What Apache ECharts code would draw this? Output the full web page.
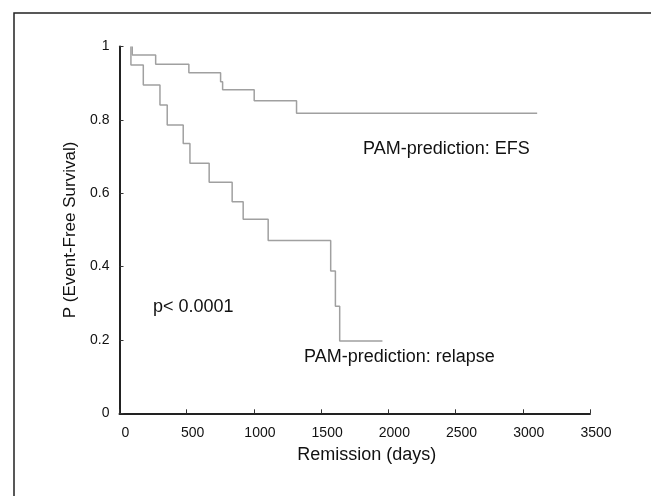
<!DOCTYPE html>
<html>
<head>
<meta charset="utf-8">
<script src="https://cdn.jsdelivr.net/npm/echarts@6/dist/echarts.min.js"></script>
<style>
  html, body { margin: 0; padding: 0; background: #fff; }
  #main { width: 651px; height: 496px; }
</style>
</head>
<body>
<div id="main"></div>
<script>
// Kaplan-Meier curves (days, survival probability)
var efsDays = [95, 95, 269, 516, 752, 767, 1002, 1317, 3107];
var efsProb = [1, 0.977, 0.952, 0.929, 0.904, 0.882, 0.852, 0.818, 0.818];
var relapseDays = [85, 85, 177, 301, 355, 474, 524, 667, 838, 920, 1106, 1571, 1606, 1638, 1956];
var relapseProb = [1, 0.950, 0.895, 0.841, 0.786, 0.736, 0.682, 0.630, 0.577, 0.529, 0.471, 0.388, 0.292, 0.197, 0.197];
var xTicks = [0, 3500, 500];   // min, max, interval
var yTicks = [0, 1, 0.2];

var font = 'Liberation Sans, Arial, Helvetica, sans-serif';

function pairs(xs, ys) {
    var out = [];
    for (var i = 0; i < xs.length; i++) {
        out.push([xs[i], ys[i]]);
    }
    return out;
}

var myChart = echarts.init(document.getElementById('main'));
var option = {
    backgroundColor: '#fff',
    animation: false,
    grid: {
        left: 119.5,
        right: 61,
        top: 46.6,
        bottom: 82.7
    },
    xAxis: {
        type: 'value',
        min: xTicks[0],
        max: xTicks[1],
        interval: xTicks[2],
        name: 'Remission (days)',
        nameLocation: 'middle',
        nameGap: 33,
        nameTextStyle: { fontFamily: font, fontSize: 18, color: '#111', padding: [0, 0, 0, 24] },
        axisLine: { lineStyle: { color: '#222', width: 2 } },
        axisTick: { inside: true, length: 4, lineStyle: { color: '#333' } },
        axisLabel: {
            fontFamily: font, fontSize: 14, color: '#111', margin: 13,
            padding: [0, 0, 0, 12],
            formatter: function (v) { return String(v); }
        },
        splitLine: { show: false }
    },
    yAxis: {
        type: 'value',
        min: yTicks[0],
        max: yTicks[1],
        interval: yTicks[2],
        name: 'P (Event-Free Survival)',
        nameLocation: 'middle',
        nameGap: 38,
        nameTextStyle: { fontFamily: font, fontSize: 17, color: '#111' },
        axisLine: { show: true, lineStyle: { color: '#222', width: 2 } },
        axisTick: { show: true, inside: true, length: 4, lineStyle: { color: '#333' } },
        axisLabel: { fontFamily: font, fontSize: 14, color: '#111', margin: 10 },
        splitLine: { show: false }
    },
    series: [
        {
            name: 'PAM-prediction: EFS',
            type: 'line',
            step: 'end',
            symbol: 'none',
            lineStyle: { color: '#a0a0a0', width: 1.5 },
            data: pairs(efsDays, efsProb)
        },
        {
            name: 'PAM-prediction: relapse',
            type: 'line',
            step: 'end',
            symbol: 'none',
            lineStyle: { color: '#a0a0a0', width: 1.5 },
            data: pairs(relapseDays, relapseProb)
        }
    ],
    graphic: [
        {
            type: 'rect',
            shape: { x: 14, y: 13, width: 660, height: 510 },
            style: { fill: 'none', stroke: '#222', lineWidth: 1.5 },
            silent: true
        },
        {
            type: 'text', left: 363, top: 140,
            style: { text: 'PAM-prediction: EFS', font: '18px ' + font, fill: '#111' }
        },
        {
            type: 'text', left: 304, top: 348,
            style: { text: 'PAM-prediction: relapse', font: '18px ' + font, fill: '#111' }
        },
        {
            type: 'text', left: 153, top: 298,
            style: { text: 'p< 0.0001', font: '18px ' + font, fill: '#111' }
        }
    ]
};
myChart.setOption(option);
</script>
</body>
</html>
